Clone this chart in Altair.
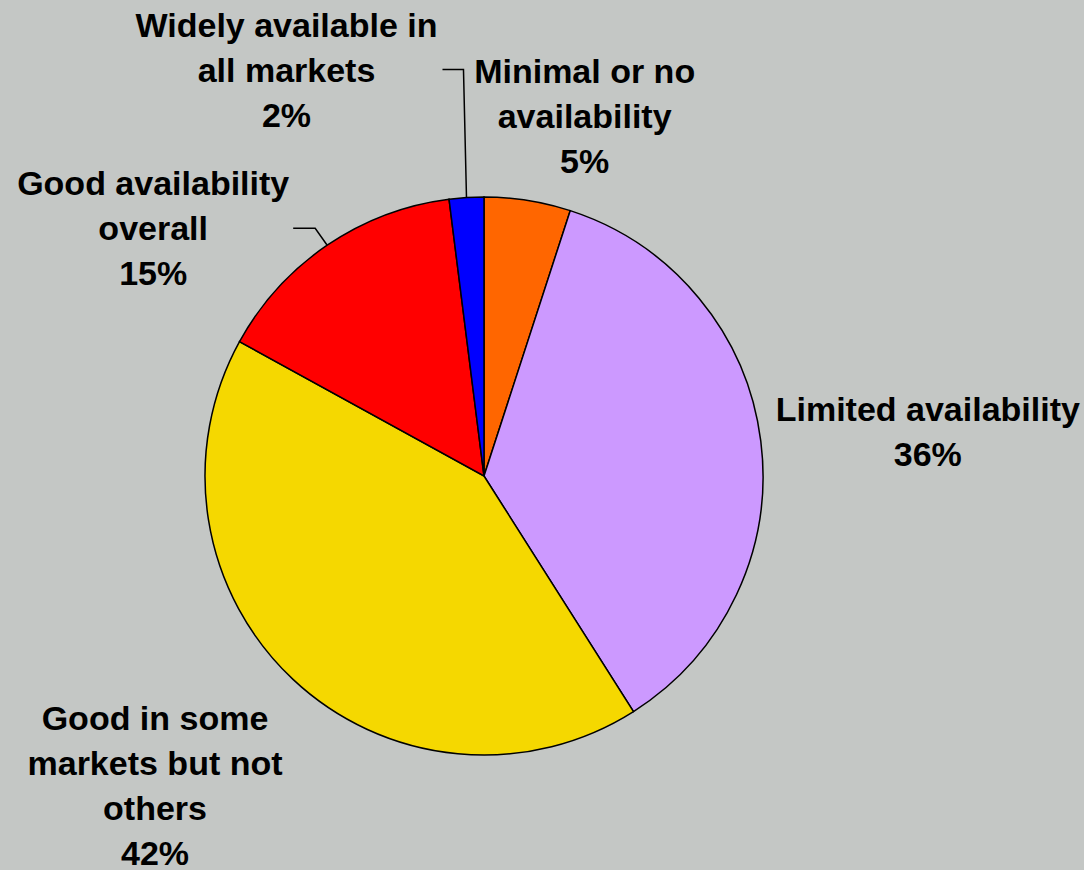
import math
import altair as alt
import pandas as pd

# ---- data ----
categories = [
    "Minimal or no availability",
    "Limited availability",
    "Good in some markets but not others",
    "Good availability overall",
    "Widely available in all markets",
]
label_lines = [
    ["Minimal or no", "availability"],
    ["Limited availability"],
    ["Good in some", "markets but not", "others"],
    ["Good availability", "overall"],
    ["Widely available in", "all markets"],
]
values = [5, 36, 42, 15, 2]
colors = ["#FF6600", "#CC99FF", "#F5D800", "#FF0000", "#0000FF"]

# ---- layout ----
CX, CY, R = 484, 476, 279
BG = "#C4C7C5"
FONT = "Liberation Sans"
# label offsets (dx, dy) of the first text line from the slice's mid-point on the rim
label_offsets = [(57, -127), (167, -30), (-138, 41), (-174, -60), (-180, -171)]
# leader lines: slice index -> list of offsets from slice rim mid-point
leader_offsets = {
    4: [(0, 0), (-3, -128), (-24, -128)],
    3: [(0, 0), (-12, -17), (-34, -17)],
}

df = pd.DataFrame({
    "category": categories,
    "value": values,
    "order": list(range(len(values))),
    "label": ["\n".join(l + [f"{v}%"]) for l, v in zip(label_lines, values)],
})

base = alt.Chart(df)
theta = alt.Theta("value:Q", stack=True)
order = alt.Order("order:Q", sort="ascending")

pie = base.mark_arc(outerRadius=R, stroke="black", strokeWidth=1.5).encode(
    theta=theta,
    order=order,
    color=alt.Color("category:N", scale=alt.Scale(domain=categories, range=colors), legend=None),
    x=alt.value(CX),
    y=alt.value(CY),
)

layers = [pie]

# leader lines anchored at slice mid-angles computed from the values
total = sum(values)
cum = 0
mids = []
for v in values:
    mids.append((cum + v / 2) / total * 2 * math.pi)
    cum += v
rows = []
for idx, offs in leader_offsets.items():
    ax = CX + R * math.sin(mids[idx])
    ay = CY - R * math.cos(mids[idx])
    for s, (ox, oy) in enumerate(offs):
        rows.append({"leader": categories[idx], "seq": s, "px": ax + ox, "py": ay + oy})
leaders = alt.Chart(pd.DataFrame(rows)).mark_line(color="black", strokeWidth=1.5).encode(
    x=alt.X("px:Q", scale=None, axis=None),
    y=alt.Y("py:Q", scale=None, axis=None),
    detail="leader:N",
    order="seq:Q",
)
layers.append(leaders)

for cat, (dx, dy) in zip(categories, label_offsets):
    t = base.transform_calculate(
        lbl=f"datum.category == '{cat}' ? datum.label : ''"
    ).mark_text(
        radius=R, dx=dx, dy=dy, font=FONT, fontWeight="bold", fontSize=34,
        lineHeight=45, lineBreak="\n", align="center", baseline="middle", color="black",
    ).encode(
        theta=theta,
        order=order,
        text="lbl:N",
        x=alt.value(CX),
        y=alt.value(CY),
    )
    layers.append(t)

chart = alt.layer(*layers).properties(
    width=1084, height=870, padding=0,
    autosize=alt.AutoSizeParams(type="none"),
    background=BG,
).configure_view(stroke=None)

chart.save("out.html", embed_options={"renderer": "svg", "actions": False})
